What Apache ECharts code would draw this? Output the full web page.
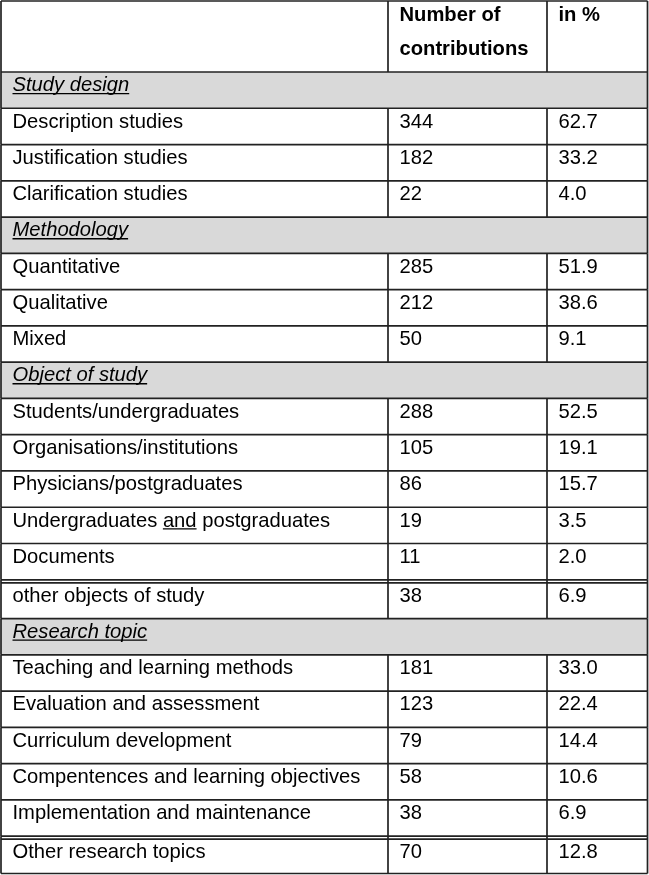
<!DOCTYPE html>
<html><head><meta charset="utf-8">
<script src="https://cdn.jsdelivr.net/npm/echarts@6/dist/echarts.min.js"></script>
<style>html,body{margin:0;padding:0;background:#fff}#c{width:649px;height:875px}</style>
</head><body><div id="c"></div>
<script>
// ---------- data ----------
const columnHeaders = ['', 'Number of\ncontributions', 'in %'];
const sectionTitles = ['Study design', 'Methodology', 'Object of study', 'Research topic'];

const studyDesignCategories = ['Description studies', 'Justification studies', 'Clarification studies'];
const studyDesignCounts = [344, 182, 22];
const studyDesignPercents = [62.7, 33.2, 4.0];

const methodologyCategories = ['Quantitative', 'Qualitative', 'Mixed'];
const methodologyCounts = [285, 212, 50];
const methodologyPercents = [51.9, 38.6, 9.1];

const objectCategories = ['Students/undergraduates', 'Organisations/institutions', 'Physicians/postgraduates',
  'Undergraduates and postgraduates', 'Documents', 'other objects of study'];
const objectCounts = [288, 105, 86, 19, 11, 38];
const objectPercents = [52.5, 19.1, 15.7, 3.5, 2.0, 6.9];

const topicCategories = ['Teaching and learning methods', 'Evaluation and assessment', 'Curriculum development',
  'Compentences and learning objectives', 'Implementation and maintenance', 'Other research topics'];
const topicCounts = [181, 123, 79, 58, 38, 70];
const topicPercents = [33.0, 22.4, 14.4, 10.6, 6.9, 12.8];

// text decorations (style)
const underlinedPart = { 'Undergraduates and postgraduates': 'and' };
const doubleRuleBefore = ['other objects of study', 'Other research topics'];

// ---------- layout / style ----------
const W = 649, H = 875;
const COL_EDGES = [1, 388, 547, 647.5];
const TABLE_TOP = 1, HEADER_BOTTOM = 72, ROW_H = 36.27, DOUBLE_GAP = 2.5;
const PAD_X = 11.5, CAP_OFFSET = 12.3;
const HEADER_CAPS = [13.9, 47.5];
const FONT_FAMILY = '"Liberation Sans", Arial, sans-serif';
const FONT_SIZE = 20.2;
const LINE_COLOR = '#222', LINE_W = 1.7;
const SECTION_FILL = '#d9d9d9';

const sections = [
  [studyDesignCategories, studyDesignCounts, studyDesignPercents],
  [methodologyCategories, methodologyCounts, methodologyPercents],
  [objectCategories, objectCounts, objectPercents],
  [topicCategories, topicCounts, topicPercents]
];

// build rows
const rows = [{ kind: 'header', top: TABLE_TOP, bottom: HEADER_BOTTOM }];
let y = HEADER_BOTTOM;
sections.forEach((sec, si) => {
  rows.push({ kind: 'section', title: sectionTitles[si], top: y, bottom: y + ROW_H });
  y += ROW_H;
  sec[0].forEach((label, k) => {
    const dbl = doubleRuleBefore.indexOf(label) >= 0;
    const h = ROW_H + (dbl ? DOUBLE_GAP : 0);
    rows.push({ kind: 'item', label, count: String(sec[1][k]), pct: sec[2][k].toFixed(1), dbl, top: y, bottom: y + h });
    y += h;
  });
});
const lastIdx = rows.length - 1;
rows[lastIdx].bottom = H - 1.5;

// text metrics
const mctx = document.createElement('canvas').getContext('2d');
function fontStr(style, weight) { return style + ' ' + weight + ' ' + FONT_SIZE + 'px ' + FONT_FAMILY; }
function capMetrics(style, weight) {
  mctx.font = fontStr(style, weight);
  mctx.textBaseline = 'middle';
  const m = mctx.measureText('H');
  return { base: m.actualBoundingBoxDescent, capCenter: (m.actualBoundingBoxDescent - m.actualBoundingBoxAscent) / 2 };
}
function textW(s, style, weight) { mctx.font = fontStr(style, weight); return mctx.measureText(s).width; }

function textEl(x, capCenterY, str, style, weight) {
  const cm = capMetrics(style, weight);
  return {
    type: 'text', x: x, y: capCenterY - cm.capCenter,
    style: { text: str, fill: '#000', fontFamily: FONT_FAMILY, fontSize: FONT_SIZE, fontStyle: style, fontWeight: weight,
      align: 'left', verticalAlign: 'middle' }
  };
}
function hline(x1, x2, yy) {
  return { type: 'line', shape: { x1, y1: yy, x2, y2: yy }, style: { stroke: LINE_COLOR, lineWidth: LINE_W } };
}
function vline(xx, y1, y2) {
  return { type: 'line', shape: { x1: xx, y1, x2: xx, y2 }, style: { stroke: LINE_COLOR, lineWidth: LINE_W } };
}

function renderItem(params, api) {
  const i = api.value(0);
  const r = rows[i];
  const top = api.coord([0, api.value(1)])[1];
  const bot = api.coord([0, api.value(2)])[1];
  const xs = COL_EDGES.map(e => api.coord([e, 0])[0]);
  const ch = [];
  if (r.kind === 'section') {
    ch.push({ type: 'rect', shape: { x: xs[0], y: top, width: xs[3] - xs[0], height: bot - top }, style: { fill: SECTION_FILL } });
  }
  ch.push(hline(xs[0], xs[3], top));
  let contentTop = top;
  if (r.dbl) { ch.push(hline(xs[0], xs[3], top + 3)); contentTop = top + DOUBLE_GAP; }
  const vx = r.kind === 'section' ? [xs[0], xs[3]] : xs;
  vx.forEach(xx => ch.push(vline(xx, top, bot)));
  if (i === lastIdx) ch.push(hline(xs[0], xs[3], bot));

  if (r.kind === 'header') {
    columnHeaders.forEach((h, c) => {
      if (!h) return;
      h.split('\n').forEach((ln, li) => ch.push(textEl(xs[c] + PAD_X, top - TABLE_TOP + HEADER_CAPS[li], ln, 'normal', 'bold')));
    });
  } else if (r.kind === 'section') {
    const tx = xs[0] + PAD_X, cy = contentTop + CAP_OFFSET;
    ch.push(textEl(tx, cy, r.title, 'italic', 'normal'));
    const cm = capMetrics('italic', 'normal');
    const by = cy - cm.capCenter + cm.base + 2.3;
    ch.push({ type: 'line', shape: { x1: tx, y1: by, x2: tx + textW(r.title, 'italic', 'normal'), y2: by }, style: { stroke: '#000', lineWidth: 1.4 } });
  } else {
    const cy = contentTop + CAP_OFFSET;
    const tx = xs[0] + PAD_X;
    ch.push(textEl(tx, cy, r.label, 'normal', 'normal'));
    ch.push(textEl(xs[1] + PAD_X, cy, r.count, 'normal', 'normal'));
    ch.push(textEl(xs[2] + PAD_X, cy, r.pct, 'normal', 'normal'));
    const u = underlinedPart[r.label];
    if (u) {
      const start = r.label.indexOf(u);
      const x1 = tx + textW(r.label.slice(0, start), 'normal', 'normal');
      const x2 = tx + textW(r.label.slice(0, start + u.length), 'normal', 'normal');
      const cm = capMetrics('normal', 'normal');
      const by = cy - cm.capCenter + cm.base + 2.3;
      ch.push({ type: 'line', shape: { x1, y1: by, x2, y2: by }, style: { stroke: '#000', lineWidth: 1.4 } });
    }
  }
  return { type: 'group', children: ch };
}

const chart = echarts.init(document.getElementById('c'), null, { renderer: 'canvas' });
chart.setOption({
  animation: false,
  backgroundColor: '#fff',
  grid: { left: 0, right: 0, top: 0, bottom: 0 },
  xAxis: { type: 'value', min: 0, max: W, show: false },
  yAxis: { type: 'value', min: 0, max: H, inverse: true, show: false },
  series: [{
    type: 'custom',
    clip: false,
    renderItem: renderItem,
    data: rows.map((r, i) => [i, r.top, r.bottom])
  }]
});
</script>
</body></html>
